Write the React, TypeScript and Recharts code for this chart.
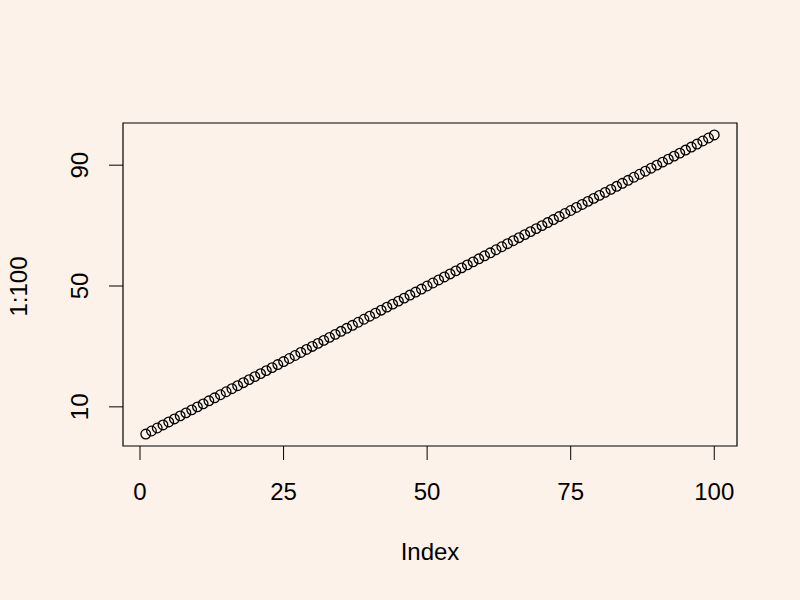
import React from 'react';
import {
    ScatterChart,
    Scatter,
    XAxis,
    YAxis,
    ReferenceArea,
} from 'recharts';

// plot(1:100) -- index on x, value on y
const indexValues = [
    1, 2, 3, 4, 5, 6, 7, 8, 9, 10, 11, 12, 13, 14, 15, 16, 17, 18, 19, 20,
    21, 22, 23, 24, 25, 26, 27, 28, 29, 30, 31, 32, 33, 34, 35, 36, 37, 38, 39, 40,
    41, 42, 43, 44, 45, 46, 47, 48, 49, 50, 51, 52, 53, 54, 55, 56, 57, 58, 59, 60,
    61, 62, 63, 64, 65, 66, 67, 68, 69, 70, 71, 72, 73, 74, 75, 76, 77, 78, 79, 80,
    81, 82, 83, 84, 85, 86, 87, 88, 89, 90, 91, 92, 93, 94, 95, 96, 97, 98, 99, 100,
];
const seriesValues = [
    1, 2, 3, 4, 5, 6, 7, 8, 9, 10, 11, 12, 13, 14, 15, 16, 17, 18, 19, 20,
    21, 22, 23, 24, 25, 26, 27, 28, 29, 30, 31, 32, 33, 34, 35, 36, 37, 38, 39, 40,
    41, 42, 43, 44, 45, 46, 47, 48, 49, 50, 51, 52, 53, 54, 55, 56, 57, 58, 59, 60,
    61, 62, 63, 64, 65, 66, 67, 68, 69, 70, 71, 72, 73, 74, 75, 76, 77, 78, 79, 80,
    81, 82, 83, 84, 85, 86, 87, 88, 89, 90, 91, 92, 93, 94, 95, 96, 97, 98, 99, 100,
];
const xTicks = [0, 25, 50, 75, 100];
const yTicks = [10, 50, 90];
const xDomain = [-2.96, 103.96];
const yDomain = [-2.96, 103.96];

const FONT = '"Liberation Sans", Arial, sans-serif';
const BG = '#FDF2E9';

const data = indexValues.map((x, i) => ({ x, y: seriesValues[i] }));

const XTick = (props: any) => {
    const { x, y, payload } = props;
    return (
        <text x={x} y={y + 40} textAnchor="middle" fontSize={24} fontFamily={FONT} fill="#000">
            {payload.value}
        </text>
    );
};

const YTick = (props: any) => {
    const { x, y, payload } = props;
    const bx = x - 21;
    return (
        <text
            x={bx}
            y={y}
            transform={`rotate(-90, ${bx}, ${y})`}
            textAnchor="middle"
            fontSize={24}
            fontFamily={FONT}
            fill="#000"
        >
            {payload.value}
        </text>
    );
};

const Circle = (props: any) => (
    <circle cx={props.cx} cy={props.cy} r={4.8} fill="none" stroke="#000" strokeWidth={1.3} />
);

export default function App() {
    return (
        <div style={{ position: 'fixed', left: 0, top: 0, width: 800, height: 600, background: BG }}>
            <ScatterChart
                width={800}
                height={600}
                margin={{ top: 123, right: 63, bottom: 94, left: 63 }}
            >
                <XAxis
                    type="number"
                    dataKey="x"
                    domain={xDomain}
                    allowDataOverflow
                    ticks={xTicks}
                    height={60}
                    axisLine={false}
                    tickLine={{ stroke: '#000' }}
                    stroke="#000"
                    tickSize={14}
                    tickMargin={0}
                    tick={<XTick />}
                    label={{
                        content: (p: any) => {
                            const vb = p.viewBox;
                            return (
                                <text x={vb.x + vb.width / 2} y={vb.y + 114} textAnchor="middle" fontSize={24} fontFamily={FONT} fill="#000">
                                    Index
                                </text>
                            );
                        },
                    }}
                />
                <YAxis
                    type="number"
                    dataKey="y"
                    domain={yDomain}
                    allowDataOverflow
                    ticks={yTicks}
                    width={60}
                    axisLine={false}
                    tickLine={{ stroke: '#000' }}
                    stroke="#000"
                    tickSize={14}
                    tickMargin={0}
                    tick={<YTick />}
                    label={{
                        content: (p: any) => {
                            const vb = p.viewBox;
                            const bx = vb.x - 36;
                            const cy = vb.y + vb.height / 2 + 2;
                            return (
                                <text x={bx} y={cy} transform={`rotate(-90, ${bx}, ${cy})`} textAnchor="middle" fontSize={24} fontFamily={FONT} fill="#000">
                                    1:100
                                </text>
                            );
                        },
                    }}
                />
                <ReferenceArea
                    x1={xDomain[0]}
                    x2={xDomain[1]}
                    y1={yDomain[0]}
                    y2={yDomain[1]}
                    fill="none"
                    fillOpacity={0}
                    stroke="#000"
                    strokeWidth={1.2}
                    ifOverflow="visible"
                />
                <Scatter data={data} shape={<Circle />} isAnimationActive={false} />
            </ScatterChart>
        </div>
    );
}
